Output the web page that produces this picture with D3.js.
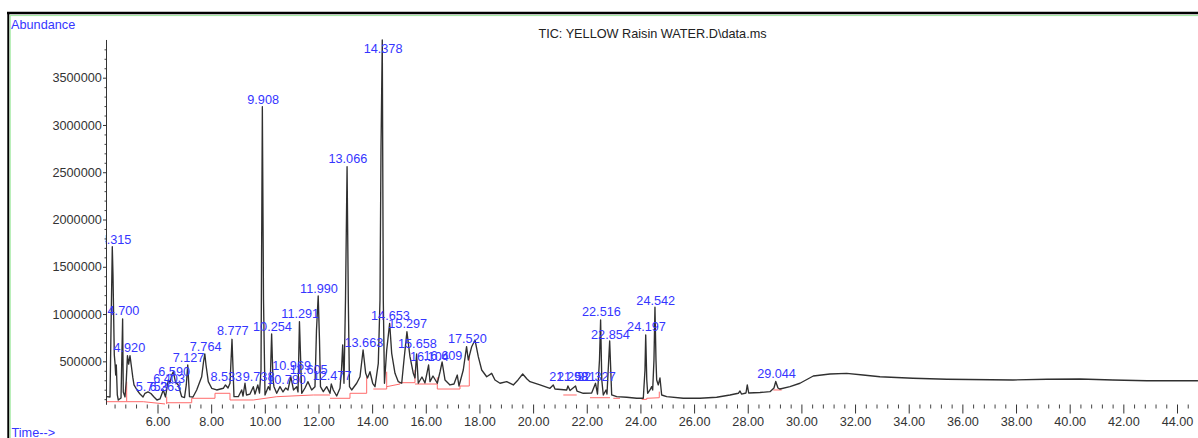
<!DOCTYPE html>
<html><head><meta charset="utf-8">
<script src="https://cdn.jsdelivr.net/npm/d3@7"></script>
<style>body{margin:0;background:#fff}svg{display:block}</style>
</head><body>
<svg id="c" width="1198" height="438"></svg>
<script>
// ---- data (time in min, abundance) ----
const chartTitle = "TIC: YELLOW Raisin WATER.D\\data.ms";
const yAxisTitle = "Abundance";
const xAxisTitle = "Time-->";
const yTickValues = [500000, 1000000, 1500000, 2000000, 2500000, 3000000, 3500000];
const xTickValues = [6, 8, 10, 12, 14, 16, 18, 20, 22, 24, 26, 28, 30, 32, 34, 36, 38, 40, 42, 44];

const tracePoints = [
[4.107,126000],[4.230,123000],[4.267,831000],[4.315,1712000],[4.341,1413000],[4.368,937000],[4.390,567000],[4.416,482000],[4.442,355000],[4.464,461000],[4.502,144000],[4.539,91000],[4.640,112000],[4.700,948000],[4.725,176000],[4.789,123000],[4.837,303000],[4.880,560000],[4.925,470000],[4.975,560000],[5.030,440000],[5.080,330000],[5.124,250000],[5.236,197000],[5.348,154000],[5.460,123000],[5.534,162000],[5.646,176000],[5.753,160000],[5.870,123000],[5.981,91000],[6.093,102000],[6.216,197000],[6.298,123000],[6.403,303000],[6.466,271000],[6.529,355000],[6.590,390000],[6.671,281000],[6.775,250000],[6.902,126000],[7.006,117000],[7.073,250000],[7.127,461000],[7.193,126000],[7.323,123000],[7.461,197000],[7.647,337000],[7.715,493000],[7.764,578000],[7.808,461000],[7.893,285000],[8.020,215000],[8.206,197000],[8.452,215000],[8.533,250000],[8.628,218000],[8.702,268000],[8.777,733000],[8.851,126000],[9.012,126000],[9.138,197000],[9.187,133000],[9.261,268000],[9.317,144000],[9.448,154000],[9.571,232000],[9.634,154000],[9.738,250000],[9.802,165000],[9.858,408000],[9.908,3193000],[9.951,1149000],[10.007,144000],
[10.130,232000],[10.193,197000],[10.254,789000],[10.305,303000],[10.342,232000],[10.443,162000],[10.566,232000],[10.678,176000],[10.780,218000],[10.864,197000],[10.969,337000],[11.069,197000],[11.188,232000],[11.237,176000],[11.291,919000],[11.375,162000],[11.498,218000],[11.605,285000],[11.747,197000],[11.870,232000],[11.926,831000],[11.990,1191000],[12.038,726000],[12.075,232000],[12.180,179000],[12.306,232000],[12.429,162000],[12.477,260000],[12.552,197000],[12.679,133000],[12.802,215000],[12.858,408000],[12.903,673000],[12.951,268000],[13.007,1149000],[13.066,2559000],[13.112,1149000],[13.156,232000],[13.238,197000],[13.424,268000],[13.548,337000],[13.663,620000],[13.760,373000],[13.827,324000],[13.920,390000],[14.021,268000],[14.107,232000],[14.230,479000],[14.293,1149000],[14.330,2735000],[14.378,3899000],[14.416,1149000],[14.460,268000],[14.543,620000],[14.653,902000],[14.729,585000],[14.852,373000],[14.975,285000],[15.102,268000],[15.187,514000],[15.297,813000],[15.411,549000],[15.534,373000],[15.597,324000],[15.658,578000],[15.720,268000],[15.858,334000],[15.970,271000],[16.104,461000],[16.157,285000],[16.268,345000],[16.429,268000],[16.530,387000],[16.609,493000],[16.716,303000],[16.902,250000],[17.051,260000],[17.174,355000],[17.237,239000],[17.397,408000],[17.520,655000],[17.584,514000],[17.711,655000],[17.834,726000],[17.957,549000],[18.084,408000],[18.270,337000],[18.456,373000],[18.579,303000],[18.766,268000],
[19.016,285000],[19.262,250000],[19.437,303000],[19.612,366000],[19.772,313000],[19.884,285000],[20.257,250000],[20.629,215000],[20.752,250000],[20.815,207000],[21.252,197000],[21.298,239000],[21.375,191000],[21.581,239000],[21.635,186000],[21.870,162000],[22.183,165000],[22.327,268000],[22.400,154000],[22.474,514000],[22.516,937000],[22.560,303000],[22.616,144000],[22.717,197000],[22.754,154000],[22.854,715000],[22.929,144000],[23.115,126000],[23.488,120000],[23.861,109000],[24.107,109000],[24.170,408000],[24.197,779000],[24.237,303000],[24.270,162000],[24.356,197000],[24.419,232000],[24.457,197000],[24.505,514000],[24.542,1072000],[24.580,514000],[24.606,303000],[24.666,250000],[24.729,324000],[24.792,144000],[24.979,126000],[25.598,109000],[26.220,109000],[26.842,120000],[27.338,144000],[27.648,162000],[27.711,186000],[27.767,154000],[27.935,165000],[27.983,250000],[28.035,165000],[28.456,170000],[28.829,179000],[28.978,218000],[29.044,287000],[29.127,218000],[29.202,207000],[29.574,232000],[29.947,268000],[30.443,345000],[31.065,366000],[31.687,373000],[32.295,355000],[32.929,337000],[34.159,321000],[35.426,310000],[37.886,303000],[39.153,310000],[40.383,313000],[41.613,303000],[42.880,295000],[44.781,295000]
];

// integration baselines (red)
const baselineSegments = [
[[4.107,73000],[4.851,73000]],
[[4.851,73000],[4.851,285000]],
[[4.851,73000],[5.471,73000],[6.280,49000]],
[[6.343,49000],[6.343,126000]],
[[6.343,62000],[7.275,62000],[7.275,109000],[8.143,109000],[8.143,162000],[8.702,162000],[8.702,91000],[9.571,91000],[10.443,126000],[11.807,144000],[12.429,144000]],
[[12.429,109000],[13.174,109000],[13.174,162000],[13.797,162000],[13.797,337000]],
[[14.043,207000],[14.543,207000],[14.543,390000]],
[[14.543,232000],[15.038,260000],[15.038,274000],[15.597,274000],[15.597,408000]],
[[15.597,260000],[16.417,260000]],
[[16.429,330000],[16.429,207000],[17.275,207000],[17.275,239000],[17.622,239000],[17.622,549000]],
[[21.125,144000],[21.625,144000]],
[[22.120,115000],[22.866,115000]],
[[22.988,109000],[23.238,109000]],
[[24.047,98000],[24.233,98000],[24.233,109000],[24.703,115000],[24.703,179000]],
[[28.952,197000],[29.265,197000]]
];

const labelNames = ["4.315","4.700","4.920","5.753","6.263","6.403","6.590","7.127","7.764","8.533","8.777","9.738","9.908","10.254","10.780","10.969","11.291","11.605","11.990","12.477","13.066","13.663","14.378","14.653","15.297","15.658","16.104","16.609","17.520","21.298","21.581","22.327","22.516","22.854","24.197","24.542","29.044"];
const labelTimes = [4.315,4.700,4.920,5.753,6.263,6.403,6.590,7.127,7.764,8.533,8.777,9.738,9.908,10.254,10.780,10.969,11.291,11.605,11.990,12.477,13.066,13.663,14.378,14.653,15.297,15.658,16.104,16.609,17.520,21.298,21.581,22.327,22.516,22.854,24.197,24.542,29.044];
const labelHeights = [1706000,951000,560000,154000,154000,236000,306000,458000,570000,253000,739000,253000,3190000,782000,218000,369000,916000,324000,1188000,263000,2556000,617000,3727000,905000,818000,599000,464000,472000,659000,253000,253000,260000,940000,694000,782000,1064000,289000];

// ---- drawing ----
const FONT = "'Liberation Sans', Arial, sans-serif";
const FS = "12.7px";
const BLUE = "#3535ff";
const svg = d3.select("#c");

const x = d3.scaleLinear().domain([6, 44]).range([157.5, 1177]);
const y = d3.scaleLinear().domain([0, 3500000]).range([408.6, 77.7]);

// frame
svg.append("line").attr("x1", 7).attr("x2", 1198).attr("y1", 13).attr("y2", 13).attr("stroke", "#000").attr("stroke-width", 2.4);
svg.append("line").attr("x1", 8.3).attr("x2", 8.3).attr("y1", 12).attr("y2", 438).attr("stroke", "#000").attr("stroke-width", 2);
svg.append("line").attr("x1", 10).attr("x2", 1198).attr("y1", 15.6).attr("y2", 15.6).attr("stroke", "#9be89b").attr("stroke-width", 1);
svg.append("line").attr("x1", 10.2).attr("x2", 10.2).attr("y1", 15.6).attr("y2", 438).attr("stroke", "#9be89b").attr("stroke-width", 1);

const defs = svg.append("defs");
defs.append("clipPath").attr("id", "plot")
  .append("rect").attr("x", 106.5).attr("y", 16).attr("width", 1092).attr("height", 422);
defs.append("clipPath").attr("id", "labclip")
  .append("rect").attr("x", 105.5).attr("y", 16).attr("width", 1094).attr("height", 422);

// titles
svg.append("text").attr("x", 11).attr("y", 29).attr("font-family", FONT).attr("font-size", FS).attr("fill", BLUE).text(yAxisTitle);
svg.append("text").attr("x", 11.5).attr("y", 437).attr("font-family", FONT).attr("font-size", FS).attr("fill", BLUE).text(xAxisTitle);
svg.append("text").attr("x", 652.5).attr("y", 37.8).attr("text-anchor", "middle").attr("font-family", FONT).attr("font-size", FS).attr("fill", "#222").text(chartTitle);

// y axis
const yMinor = d3.range(100000, 3900000, 100000).filter(v => !yTickValues.includes(v));
svg.append("g").attr("transform", "translate(106.5,0)")
  .call(d3.axisLeft(y).tickValues(yMinor).tickSize(2).tickFormat(""))
  .call(g => g.select(".domain").remove())
  .call(g => g.selectAll("line").attr("stroke", "#444"));
svg.append("g").attr("transform", "translate(106.5,0)")
  .call(d3.axisLeft(y).tickValues(yTickValues).tickSize(3.5).tickPadding(1.2).tickFormat(d3.format("d")))
  .call(g => g.select(".domain").remove())
  .call(g => g.selectAll("line").attr("stroke", "#333"))
  .call(g => g.selectAll("text").attr("font-family", FONT).attr("font-size", FS).attr("fill", "#333"));
svg.append("line").attr("x1", 106.5).attr("x2", 106.5).attr("y1", y(3899000)).attr("y2", y(40000)).attr("stroke", "#333").attr("stroke-width", 1);

// x axis
const xMinor = d3.range(4.4, 44.8, 0.4).filter(v => Math.abs(v / 2 - Math.round(v / 2)) > 0.01);
svg.append("g").attr("transform", "translate(0,404.5)")
  .call(d3.axisBottom(x).tickValues(xMinor).tickSize(4).tickFormat(""))
  .call(g => g.select(".domain").remove())
  .call(g => g.selectAll("line").attr("stroke", "#444"));
svg.append("g").attr("transform", "translate(0,404.5)")
  .call(d3.axisBottom(x).tickValues(xTickValues).tickSize(9).tickPadding(3.8).tickFormat(d3.format(".2f")))
  .call(g => g.select(".domain").remove())
  .call(g => g.selectAll("line").attr("stroke", "#333"))
  .call(g => g.selectAll("text").attr("font-family", FONT).attr("font-size", FS).attr("fill", "#333"));

const plot = svg.append("g").attr("clip-path", "url(#plot)");

// baselines
const line = d3.line().x(d => x(d[0])).y(d => y(d[1]));
plot.selectAll("path.base").data(baselineSegments).join("path")
  .attr("class", "base").attr("d", line).attr("fill", "none")
  .attr("stroke", "#ff6a6a").attr("stroke-width", 1);

// trace
plot.append("path").datum(tracePoints).attr("d", line)
  .attr("fill", "none").attr("stroke", "#303030").attr("stroke-width", 1.35).attr("stroke-linejoin", "round");

// peak labels (clipped at the y axis like the original printout)
svg.append("g").attr("clip-path", "url(#labclip)")
  .selectAll("text.pk").data(labelNames).join("text")
  .attr("class", "pk")
  .attr("x", (d, i) => Math.max(x(labelTimes[i]) + 0.8, 115.5))
  .attr("y", (d, i) => y(labelHeights[i]) - 3.5)
  .attr("text-anchor", "middle")
  .attr("font-family", FONT).attr("font-size", FS).attr("fill", BLUE)
  .text(d => d);
</script>
</body></html>
